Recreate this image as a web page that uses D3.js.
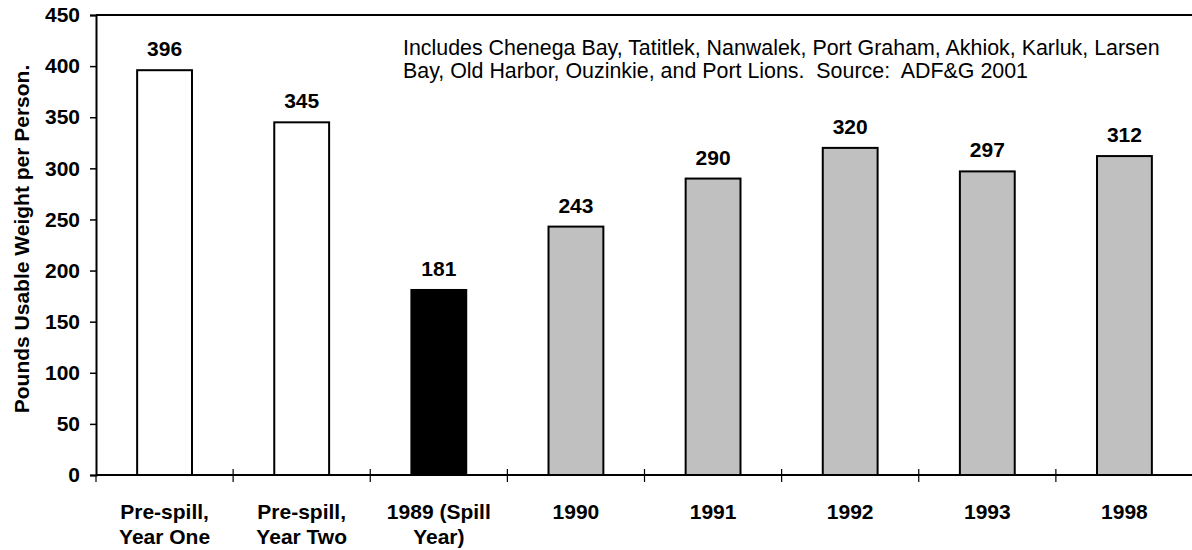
<!DOCTYPE html>
<html>
<head>
<meta charset="utf-8">
<script src="https://cdn.jsdelivr.net/npm/d3@7"></script>
<style>
  html, body { margin: 0; padding: 0; background: #fff; }
  svg { display: block; }
  text { font-family: "Liberation Sans", Arial, sans-serif; fill: #000; }
</style>
</head>
<body>
<svg id="chart" width="1192" height="550"></svg>
<script>
// Subsistence harvest per person, by period
const categories = [
  ["Pre-spill,", "Year One"],
  ["Pre-spill,", "Year Two"],
  ["1989 (Spill", "Year)"],
  ["1990"],
  ["1991"],
  ["1992"],
  ["1993"],
  ["1998"]
];
const values = [396, 345, 181, 243, 290, 320, 297, 312];
const fills = ["#ffffff", "#ffffff", "#000000", "#c0c0c0", "#c0c0c0", "#c0c0c0", "#c0c0c0", "#c0c0c0"];
const yTicks = [0, 50, 100, 150, 200, 250, 300, 350, 400, 450];
const yTitle = "Pounds Usable Weight per Person.";
const noteLines = [
  "Includes Chenega Bay, Tatitlek, Nanwalek, Port Graham, Akhiok, Karluk, Larsen",
  "Bay, Old Harbor, Ouzinkie, and Port Lions.  Source:  ADF&G 2001"
];

const FS = 21;
const svg = d3.select("#chart");
const m = { left: 96, top: 15, right: 1193, bottom: 475 };

const x = d3.scaleBand()
  .domain(d3.range(values.length))
  .range([m.left, m.right])
  .padding(0);

const y = d3.scaleLinear()
  .domain([0, 450])
  .range([m.bottom, m.top]);

const barW = x.bandwidth() * 0.4;

// Plot frame top edge
svg.append("line")
  .attr("x1", m.left).attr("x2", m.right)
  .attr("y1", m.top).attr("y2", m.top)
  .attr("stroke", "#000").attr("stroke-width", 2);

// Y axis
const yAxis = d3.axisLeft(y).tickValues(yTicks).tickSize(6).tickPadding(10);
const gy = svg.append("g").attr("transform", `translate(${m.left},0)`).call(yAxis);
gy.select(".domain").attr("stroke", "#000").attr("stroke-width", 2);
gy.selectAll(".tick line").attr("stroke", "#000").attr("stroke-width", 1.5);
gy.selectAll(".tick text")
  .attr("font-size", FS).attr("font-weight", "bold")
  .attr("font-family", "Liberation Sans, Arial, sans-serif")
  .attr("fill", "#000");

// Bars
svg.append("g").selectAll("rect")
  .data(values)
  .join("rect")
  .attr("x", (d, i) => x(i) + (x.bandwidth() - barW) / 2)
  .attr("y", d => y(d))
  .attr("width", barW)
  .attr("height", d => y(0) - y(d))
  .attr("fill", (d, i) => fills[i])
  .attr("stroke", "#000")
  .attr("stroke-width", 2);

// Value labels
svg.append("g").selectAll("text")
  .data(values)
  .join("text")
  .attr("x", (d, i) => x(i) + x.bandwidth() / 2)
  .attr("y", d => y(d) - 14)
  .attr("text-anchor", "middle")
  .attr("font-size", FS)
  .attr("font-weight", "bold")
  .text(d => d);

// X axis baseline and cross tick marks at category boundaries
svg.append("line")
  .attr("x1", m.left).attr("x2", m.right)
  .attr("y1", y(0)).attr("y2", y(0))
  .attr("stroke", "#000").attr("stroke-width", 2);

const boundaries = d3.range(values.length + 1).map(i => i < values.length ? x(i) : m.right);
svg.append("g").selectAll("line")
  .data(boundaries)
  .join("line")
  .attr("x1", d => d).attr("x2", d => d)
  .attr("y1", (d, i) => i === 0 ? y(0) : y(0) - 6)
  .attr("y2", y(0) + 7)
  .attr("stroke", "#000").attr("stroke-width", 1.2);

// Category labels
const xl = svg.append("g").selectAll("text")
  .data(categories)
  .join("text")
  .attr("x", (d, i) => x(i) + x.bandwidth() / 2)
  .attr("y", 519)
  .attr("text-anchor", "middle")
  .attr("font-size", FS)
  .attr("font-weight", "bold");
xl.selectAll("tspan")
  .data(d => d)
  .join("tspan")
  .attr("x", function () { return d3.select(this.parentNode).attr("x"); })
  .attr("dy", (d, i) => i === 0 ? 0 : 25)
  .text(d => d);

// Y axis title
svg.append("text")
  .attr("transform", `translate(29,${(m.top + m.bottom) / 2 - 6}) rotate(-90)`)
  .attr("text-anchor", "middle")
  .attr("font-size", FS)
  .attr("font-weight", "bold")
  .text(yTitle);

// Note text
svg.append("g").selectAll("text")
  .data(noteLines)
  .join("text")
  .attr("x", 403)
  .attr("y", (d, i) => 55 + i * 23)
  .attr("font-size", 21.4)
  .attr("xml:space", "preserve")
  .style("white-space", "pre")
  .text(d => d);
</script>
</body>
</html>
